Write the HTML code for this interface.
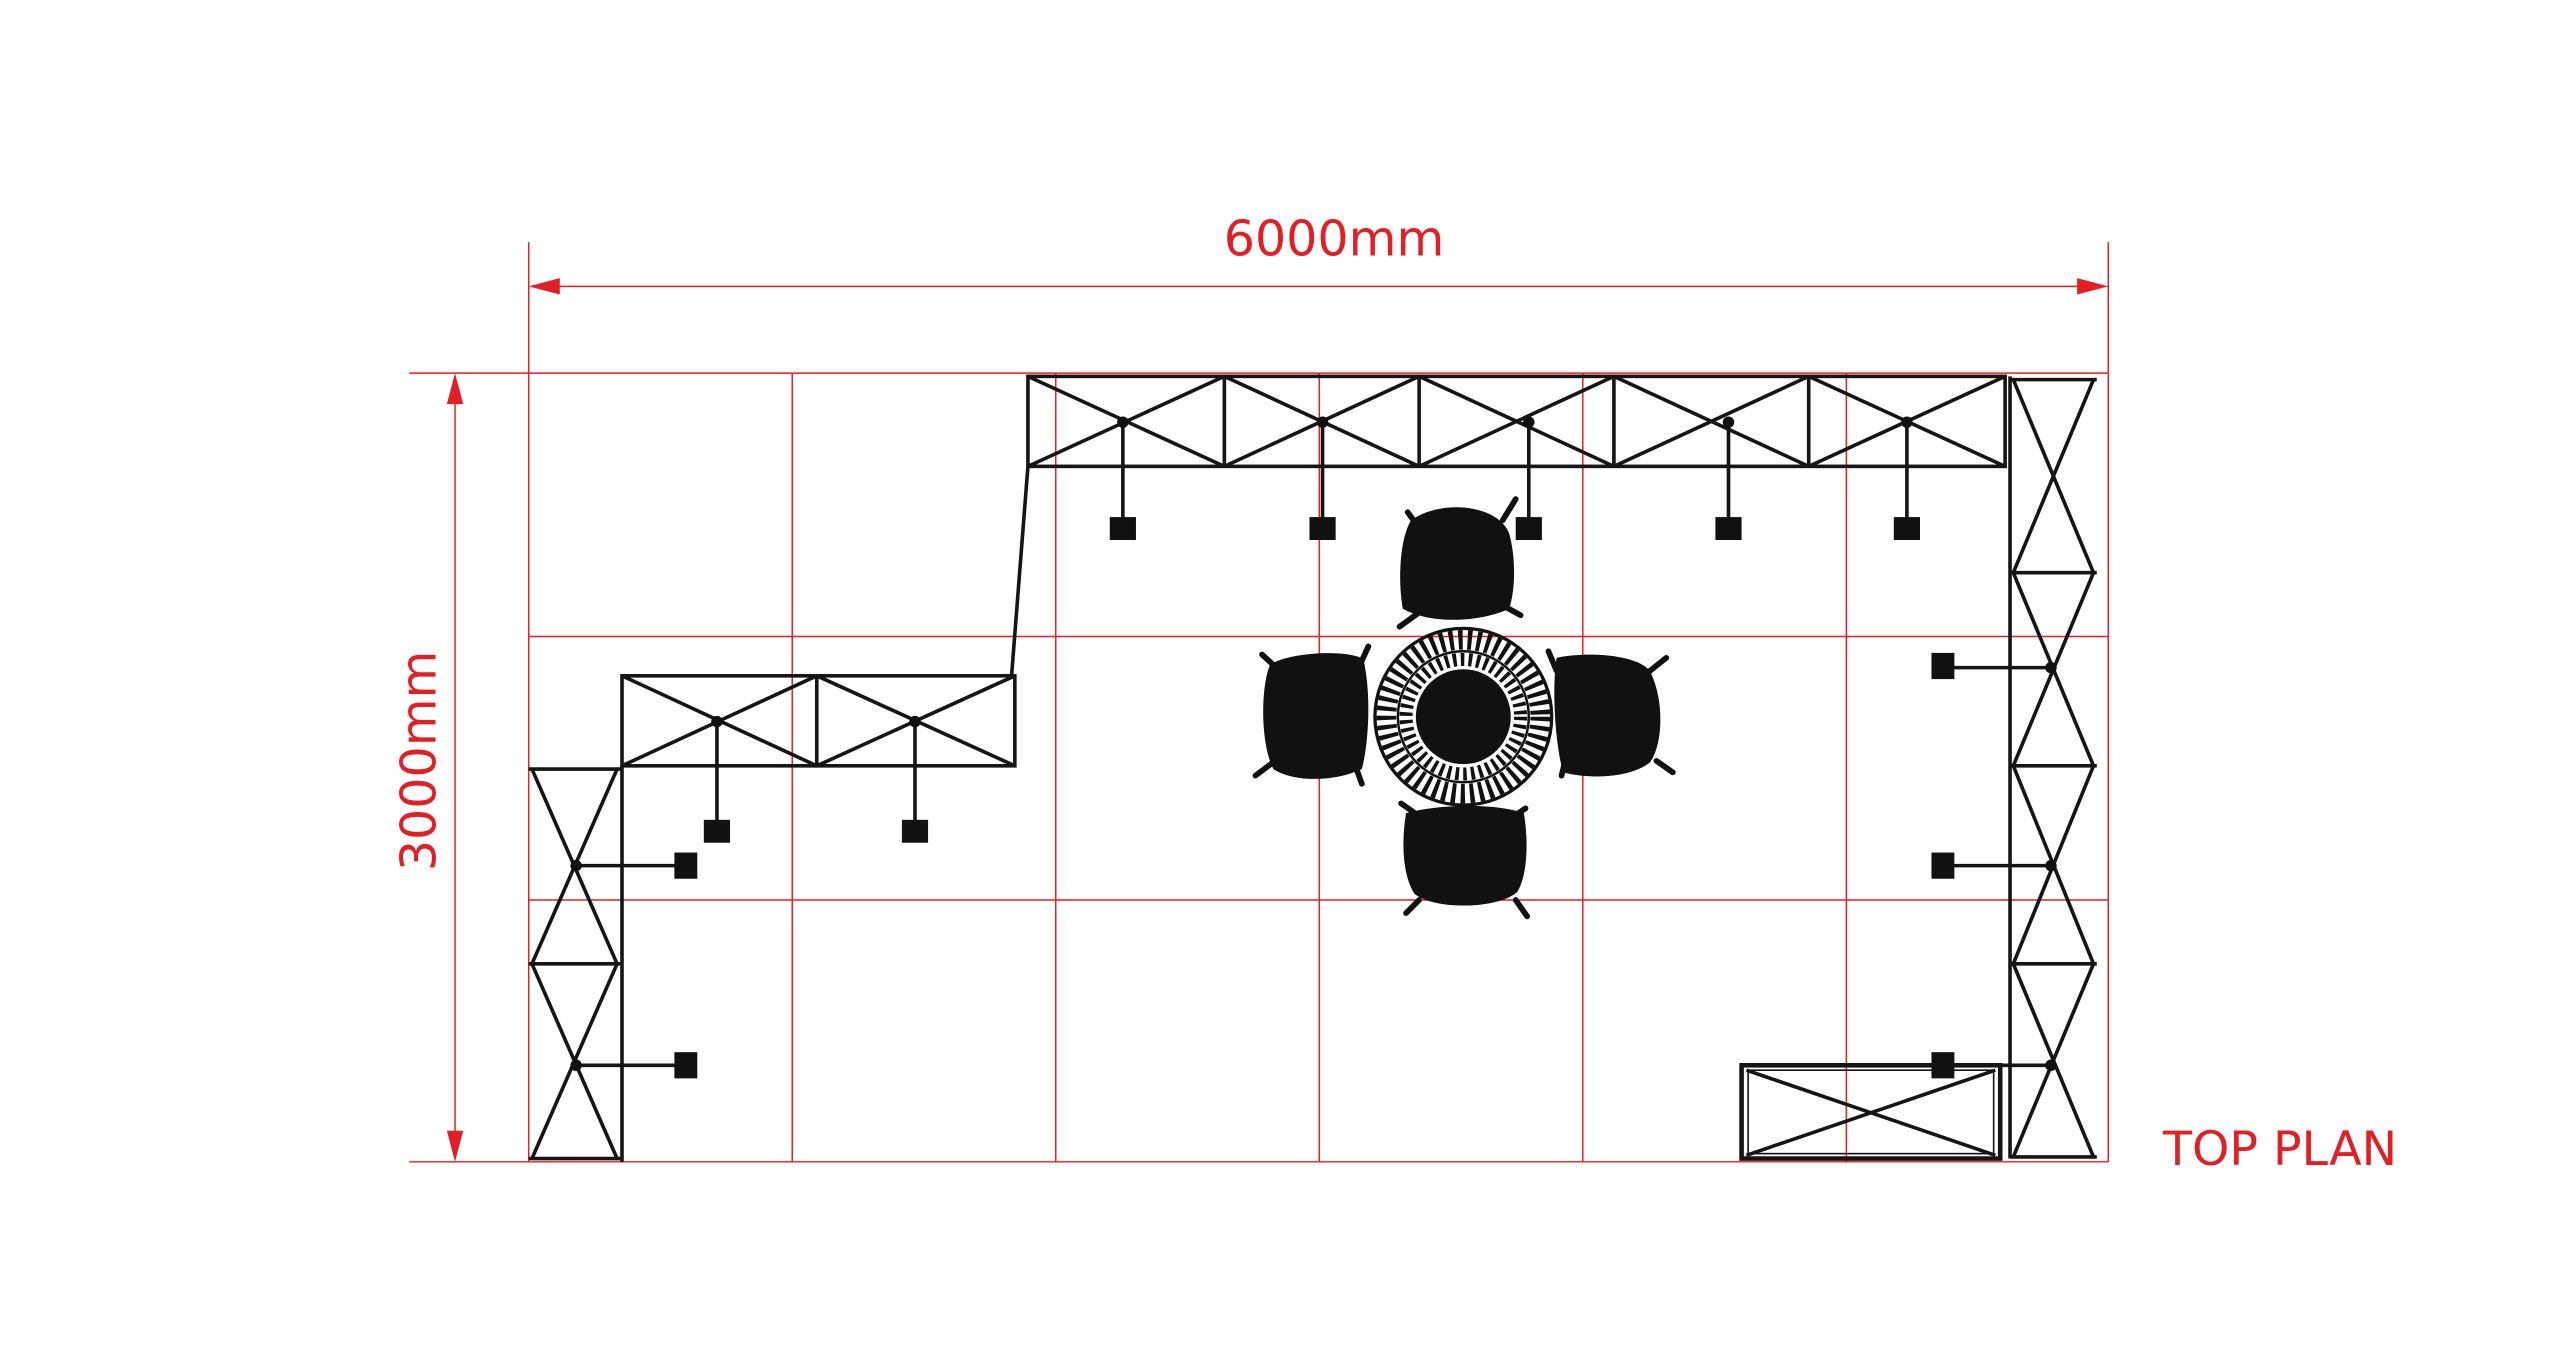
<!DOCTYPE html>
<html><head><style>
html,body{margin:0;padding:0;background:#fff;}
svg{display:block;}
</style></head><body>
<svg width="2560" height="1350" viewBox="0 0 1564 825" preserveAspectRatio="none" xmlns="http://www.w3.org/2000/svg">
<rect width="1564" height="825" fill="#fff"/>
<g stroke="#e31e24" stroke-width="0.9" fill="none">
<line x1="250" y1="228" x2="1288" y2="228"/>
<line x1="323" y1="389" x2="1288" y2="389"/>
<line x1="323" y1="550" x2="1288" y2="550"/>
<line x1="250" y1="710" x2="1288" y2="710"/>
<line x1="323" y1="148" x2="323" y2="710"/>
<line x1="484" y1="228" x2="484" y2="710"/>
<line x1="645" y1="228" x2="645" y2="710"/>
<line x1="806" y1="228" x2="806" y2="710"/>
<line x1="967" y1="228" x2="967" y2="710"/>
<line x1="1128" y1="228" x2="1128" y2="710"/>
<line x1="1288" y1="148" x2="1288" y2="710"/>
<line x1="335" y1="175" x2="1276" y2="175"/>
<line x1="278" y1="240" x2="278" y2="698"/>
</g>
<g fill="#e31e24">
<polygon points="323,175 342,170 342,180"/>
<polygon points="1288,175 1269,170 1269,180"/>
<polygon points="278,228 273,247 283,247"/>
<polygon points="278,710 273,691 283,691"/>
</g>
<g fill="#e31e24" font-family="'DejaVu Sans','Liberation Sans',sans-serif">
<text x="815" y="156" font-size="30" text-anchor="middle">6000mm</text>
<text x="1393" y="712" font-size="29" text-anchor="middle">TOP PLAN</text>
<text transform="translate(266,465) rotate(-90)" font-size="30" text-anchor="middle">3000mm</text>
</g>
<g stroke="#151515" stroke-width="2.2" fill="none">
<rect x="628" y="230" width="597" height="55"/>
<line x1="748" y1="230" x2="748" y2="285"/><line x1="867" y1="230" x2="867" y2="285"/>
<line x1="986" y1="230" x2="986" y2="285"/><line x1="1105" y1="230" x2="1105" y2="285"/>
<path d="M628 230L748 285M628 285L748 230M748 230L867 285M748 285L867 230M867 230L986 285M867 285L986 230M986 230L1105 285M986 285L1105 230M1105 230L1225 285M1105 285L1225 230"/>
<path d="M686 258V323M808 258V323M934 258V323M1056 258V323M1165 258V323"/>
<line x1="628" y1="285" x2="618" y2="413"/>
<rect x="380" y="413" width="240" height="55"/>
<line x1="499" y1="413" x2="499" y2="468"/>
<path d="M380 413L499 468M380 468L499 413M499 413L620 468M499 468L620 413"/>
<path d="M438 441V508M559 441V508"/>
<line x1="323" y1="470" x2="380" y2="470"/>
<line x1="380" y1="468" x2="380" y2="710"/>
<line x1="323" y1="589" x2="379" y2="589"/>
<line x1="323" y1="708" x2="379" y2="708"/>
<path d="M325 470L377 589M377 470L325 589M325 589L377 708M377 589L325 708"/>
<path d="M352 529H419M352 651H419"/>
<line x1="1228" y1="230" x2="1228" y2="708"/>
<line x1="1228" y1="232" x2="1281" y2="232"/>
<line x1="1228" y1="350" x2="1281" y2="350"/>
<line x1="1228" y1="468" x2="1281" y2="468"/>
<line x1="1228" y1="589" x2="1281" y2="589"/>
<line x1="1228" y1="707" x2="1281" y2="707"/>
<path d="M1230 232L1279 350M1279 232L1230 350M1230 350L1279 468M1279 350L1230 468M1230 468L1279 589M1279 468L1230 589M1230 589L1279 707M1279 589L1230 707"/>
<path d="M1187 408H1253M1187 529H1253M1187 651H1253"/>
<rect x="1064" y="651" width="158" height="57" stroke-width="2.8"/>
<rect x="1068" y="654" width="150" height="51" stroke-width="1"/>
<path d="M1067 654L1219 706M1067 706L1219 654"/>
</g>
<g fill="#111">
<rect x="678" y="316" width="16" height="14"/><rect x="800" y="316" width="16" height="14"/>
<rect x="926" y="316" width="16" height="14"/><rect x="1048" y="316" width="16" height="14"/>
<rect x="1157" y="316" width="16" height="14"/>
<rect x="430" y="501" width="16" height="14"/><rect x="551" y="501" width="16" height="14"/>
<rect x="412" y="521" width="14" height="16"/><rect x="412" y="643" width="14" height="16"/>
<rect x="1180" y="399" width="14" height="16"/><rect x="1180" y="521" width="14" height="16"/>
<rect x="1180" y="643" width="14" height="16"/>
<circle cx="686" cy="258" r="3.5"/><circle cx="808" cy="258" r="3.5"/><circle cx="934" cy="258" r="3.5"/>
<circle cx="1056" cy="258" r="3.5"/><circle cx="1165" cy="258" r="3.5"/>
<circle cx="438" cy="441" r="3.5"/><circle cx="559" cy="441" r="3.5"/>
<circle cx="352" cy="529" r="3.5"/><circle cx="352" cy="651" r="3.5"/>
<circle cx="1253" cy="408" r="3.5"/><circle cx="1253" cy="529" r="3.5"/><circle cx="1253" cy="651" r="3.5"/>
</g>
<g stroke="#111" stroke-width="3.5" stroke-linecap="round">
<path d="M860 313L868 324M926 305L918 318M855 383L866 375M929 376L920 371"/>
<path d="M771 400L782 410M836 395L831 406M767 474L779 465M832 479L828 468"/>
<path d="M946 398L951 410M1018 402L1008 410M954 474L957 462M1022 472L1012 465"/>
<path d="M856 491L866 498M932 494L923 500M859 558L867 550M933 560L926 550"/>
</g>
<g fill="#111">
<path d="M862 318C880 305 915 308 922 326C926 340 926 360 922 372C905 380 875 382 857 372C854 355 855 330 862 318Z"/>
<path d="M776 406C790 398 825 397 833 403C838 425 836 455 832 470C815 478 790 478 778 470C770 455 770 420 776 406Z"/>
<path d="M951 402C970 398 1000 400 1008 410C1017 428 1016 455 1008 466C995 476 970 476 955 472C950 455 948 420 951 402Z"/>
<path d="M859 497C880 491 915 491 931 497C934 515 933 535 927 545C915 556 875 556 864 546C857 535 856 515 859 497Z"/>
</g>
<g fill="none" stroke="#111">
<circle cx="894" cy="438" r="54" stroke-width="2"/>
<circle cx="894" cy="438" r="47" stroke-width="12" stroke-dasharray="2.6 3"/>
<circle cx="894" cy="438" r="40" stroke-width="1.5"/>
<circle cx="894" cy="438" r="35" stroke-width="8" stroke-dasharray="2.2 2.6"/>
</g>
<circle cx="894" cy="438" r="29" fill="#111"/>
</svg>
</body></html>
